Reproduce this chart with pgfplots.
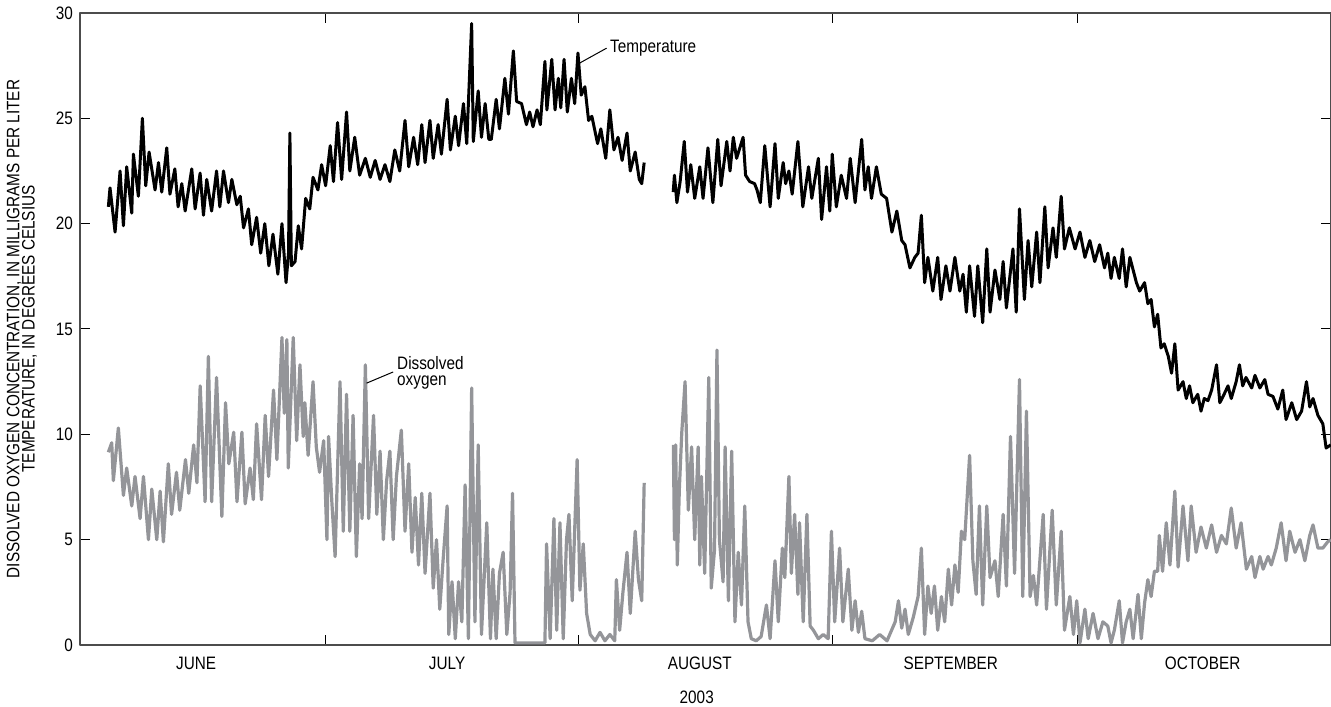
\documentclass[border=0pt]{standalone}
\usepackage{fontspec}
\setmainfont{Liberation Sans}[FakeStretch=0.85]
\usepackage{pgfplots}
\pgfplotsset{compat=1.18}
\definecolor{dogray}{RGB}{148,149,153}

\begin{document}
\begin{tikzpicture}
% picture frame: 1331x706 px at 0.5pt per px, axis box from (80,13) to (1331,645)
\useasboundingbox (-40pt,-30.5pt) rectangle (625.5pt,322.5pt);
\begin{axis}[
  at={(0,0)}, anchor=south west,
  width=625.5pt, height=316pt, scale only axis,
  xmin=0, xmax=153, ymin=0, ymax=30,
  font=\fontsize{9}{10}\selectfont,
  axis line style={draw=black!70, line width=0.8pt},
  tick style={draw=black, line width=0.5pt},
  major tick length=5pt, tick align=inside,
  ytick={0,5,...,30}, ytick pos=both, yticklabel pos=left,
  xtick={30,61,92,122}, xticklabels={,,,}, xtick pos=both,
  /pgf/number format/assume math mode=true,
  ylabel={DISSOLVED OXYGEN CONCENTRATION, IN MILLIGRAMS PER LITER\\TEMPERATURE, IN DEGREES CELSIUS},
  ylabel style={align=center, font=\fontsize{9}{7.6}\selectfont,
    at={(axis description cs:-0.0288,0.5)}, anchor=south},
  unbounded coords=jump,
  clip mode=individual,
  line join=round,
]
% dissolved oxygen
\addplot[color=dogray, line width=1.6pt] coordinates {
(3.47,9.15)(3.88,9.6)(4.08,7.8)(4.69,10.3)(5.31,7.1)(5.71,8.4)(6.33,6.6)(6.73,8.0)(7.35,6.0)(7.76,8.0)
(8.37,5.0)(8.78,7.4)(9.39,5.0)(9.8,7.3)(10.2,4.9)(10.8,8.6)(11.2,6.2)(11.8,8.2)(12.2,6.4)(12.9,8.8)
(13.3,7.2)(13.9,9.5)(14.3,7.7)(14.7,12.3)(15.3,6.8)(15.7,13.7)(16.1,6.8)(16.7,12.7)(17.35,6.1)(17.8,11.5)
(18.2,8.6)(18.8,10.1)(19.2,6.8)(19.8,10.1)(20.2,6.7)(20.8,8.4)(21.2,6.9)(21.6,10.5)(22.2,6.9)(22.65,10.9)
(23.06,8.0)(23.67,12.1)(24.08,8.8)(24.7,14.6)(24.98,11.0)(25.3,14.5)(25.47,8.4)(26.08,14.6)(26.5,9.7)(26.9,13.3)
(27.3,9.9)(27.5,11.5)(27.9,9.0)(28.5,12.5)(28.9,9.4)(29.3,8.2)(29.8,9.7)(30.2,5.0)(30.4,9.9)(30.8,6.8)
(31.2,4.2)(31.8,12.5)(32.2,5.4)(32.6,11.9)(33.0,5.4)(33.4,10.9)(33.8,4.2)(34.2,8.6)(34.5,6.0)(34.9,13.3)
(35.3,6.0)(35.9,10.9)(36.3,6.2)(36.7,9.2)(37.1,5.0)(37.5,7.8)(37.9,9.2)(38.3,5.0)(38.7,8.0)(39.3,10.2)
(39.75,5.4)(40.2,8.6)(40.6,4.4)(41.0,7.0)(41.4,3.8)(41.8,7.2)(42.2,3.4)(42.8,7.2)(43.2,2.7)(43.6,5.0)
(44.0,1.7)(44.4,4.0)(44.9,6.6)(45.1,0.5)(45.5,3.0)(45.9,0.3)(46.3,3.0)(46.7,1.1)(47.1,7.6)(47.5,0.3)
(47.9,12.2)(48.3,1.1)(48.7,9.5)(49.1,0.5)(49.75,5.8)(50.2,0.3)(50.5,3.6)(50.9,0.3)(51.3,3.4)(51.75,4.4)
(52.2,0.5)(52.6,2.5)(52.9,7.2)(53.2,0.1)(56.86,0.1)(57.06,4.8)(57.5,0.3)(57.96,6.0)(58.3,0.7)(58.7,5.8)
(59.1,0.3)(59.5,5.0)(59.8,6.2)(60.2,2.1)(60.8,8.8)(61.14,2.6)(61.55,4.8)(61.96,1.5)(62.4,0.5)(63.0,0.2)
(63.6,0.6)(64.2,0.2)(64.8,0.5)(65.4,0.2)(65.6,3.1)(66.0,0.7)(66.4,2.5)(66.9,4.4)(67.3,1.5)(67.9,5.4)
(68.3,3.1)(68.7,2.1)(69.0,7.7)
(70,nan)
(72.57,9.5)(72.7,5.0)(72.85,9.5)(73.05,3.8)(73.3,7.4)(73.6,10.1)(74.0,12.5)(74.4,6.4)(74.8,9.4)(75.18,5.0)
(75.6,9.4)(75.8,3.8)(76.0,8.0)(76.4,3.4)(76.9,12.7)(77.2,2.7)(77.6,4.5)(77.9,14.0)(78.2,5.0)(78.65,3.0)
(78.9,9.4)(79.3,2.1)(79.7,9.2)(80.1,1.1)(80.5,4.4)(80.9,1.9)(81.3,6.6)(81.7,1.1)(82.1,0.3)(82.7,0.2)
(83.3,0.4)(83.95,1.9)(84.4,0.3)(85.0,4.0)(85.4,1.1)(85.9,4.6)(86.2,3.2)(86.7,8.0)(87.0,3.4)(87.4,6.2)
(87.8,2.4)(88.0,5.8)(88.45,1.1)(88.9,6.2)(89.3,0.9)(89.7,0.7)(90.3,0.3)(90.9,0.5)(91.5,0.3)(91.9,5.4)
(92.3,1.1)(92.9,4.6)(93.3,1.1)(93.96,3.6)(94.4,0.7)(94.8,2.1)(95.2,0.6)(95.6,1.6)(96.0,0.3)(96.9,0.2)
(97.8,0.5)(98.7,0.2)(99.7,1.1)(100.1,2.1)(100.5,0.8)(100.9,1.7)(101.3,0.5)(101.9,1.3)(102.5,2.3)(102.9,4.6)
(103.3,0.5)(103.7,2.8)(104.1,1.5)(104.5,2.8)(104.9,0.7)(105.35,2.3)(105.75,1.1)(106.2,3.6)(106.6,1.9)(107.0,3.8)
(107.4,2.5)(107.8,5.4)(108.2,5.0)(108.8,9.0)(109.2,4.0)(109.6,2.4)(110.0,6.6)(110.4,1.9)(110.9,6.6)(111.3,3.2)
(111.9,4.0)(112.3,2.3)(112.9,6.2)(113.3,2.8)(113.8,9.9)(114.3,3.4)(114.9,12.6)(115.3,2.3)(115.75,11.1)(116.2,2.3)
(116.6,3.3)(117.0,1.9)(117.8,6.2)(118.2,1.7)(118.9,6.4)(119.4,1.9)(120.0,5.4)(120.4,0.7)(121.06,2.3)(121.5,0.5)
(121.9,2.1)(122.3,0.1)(122.9,1.7)(123.3,0.3)(123.9,1.5)(124.5,0.3)(125.1,1.1)(125.7,0.9)(126.1,0.1)(126.5,0.7)
(127.1,2.1)(127.5,0.1)(127.95,1.1)(128.4,1.7)(128.8,0.3)(129.4,2.4)(129.8,0.3)(130.2,2.0)(130.6,3.1)(131.0,2.3)
(131.4,3.5)(131.8,3.5)(132.0,5.2)(132.4,3.5)(132.85,5.8)(133.3,3.8)(133.9,7.3)(134.3,3.7)(134.9,6.6)(135.5,4.0)
(135.9,6.6)(136.5,4.4)(137.1,5.6)(137.75,4.6)(138.4,5.7)(139.0,4.4)(139.6,5.2)(140.2,4.8)(140.8,6.5)(141.4,4.6)
(142.0,5.8)(142.65,3.6)(143.3,4.2)(143.7,3.2)(144.3,4.2)(144.7,3.6)(145.3,4.2)(145.7,3.8)(146.3,4.6)(146.9,5.8)
(147.5,4.0)(147.95,5.4)(148.6,4.4)(149.2,5.0)(149.8,4.0)(150.4,5.2)(150.8,5.7)(151.4,4.6)(152.0,4.6)(152.6,4.9)
(152.97,5.0)
};
% temperature
\addplot[color=black, line width=1.5pt] coordinates {
(3.47,20.8)(3.67,21.7)(4.29,19.6)(4.90,22.5)(5.31,19.9)(5.71,22.7)(6.33,20.5)(6.53,23.3)(7.14,21.3)(7.63,25.0)
(8.04,21.8)(8.45,23.4)(9.18,21.6)(9.6,22.9)(10.0,21.5)(10.61,23.6)(11.0,21.4)(11.6,22.6)(12.0,20.8)(12.45,21.9)
(12.86,20.6)(13.67,22.6)(14.08,20.7)(14.69,22.4)(15.1,20.4)(15.5,22.1)(16.1,20.6)(16.7,22.5)(17.1,20.8)(17.55,22.5)
(18.16,21.0)(18.57,22.1)(19.18,20.9)(19.6,21.3)(20.0,19.8)(20.6,20.7)(21.0,19.0)(21.6,20.3)(22.1,18.6)(22.6,20.0)
(23.1,18.0)(23.6,19.5)(24.2,17.6)(24.7,20.0)(25.2,17.2)(25.5,18.6)(25.67,24.3)(25.85,18.0)(26.3,18.2)(26.7,19.9)
(27.1,18.8)(27.6,21.2)(28.1,20.7)(28.5,22.2)(29.1,21.6)(29.55,22.8)(30.04,21.8)(30.6,23.7)(31.0,22.0)(31.5,24.8)
(32.0,22.1)(32.6,25.3)(33.0,22.5)(33.6,24.1)(34.2,22.3)(34.9,23.1)(35.5,22.2)(36.1,23.0)(36.7,22.1)(37.3,22.8)
(37.9,22.0)(38.5,23.5)(39.1,22.5)(39.75,24.9)(40.2,22.7)(40.8,24.1)(41.3,22.8)(41.8,24.7)(42.2,22.9)(42.8,24.9)
(43.2,23.1)(43.8,24.7)(44.2,23.3)(44.9,25.9)(45.3,23.5)(45.9,25.1)(46.3,23.7)(46.9,25.7)(47.3,23.8)(47.9,29.5)
(48.1,23.9)(48.7,26.3)(49.1,24.1)(49.55,25.7)(50.0,24.0)(50.3,24.0)(50.9,25.9)(51.3,24.5)(51.96,26.9)(52.4,25.2)
(53.0,28.2)(53.4,25.8)(54.0,25.7)(54.6,24.7)(55.0,25.3)(55.4,24.6)(55.9,25.4)(56.3,24.7)(56.86,27.7)(57.1,25.4)
(57.7,27.8)(58.1,25.4)(58.5,26.9)(58.8,25.5)(59.2,27.8)(59.6,25.3)(60.1,26.9)(60.5,25.7)(60.9,28.1)(61.3,26.1)
(61.75,26.5)(62.2,24.9)(62.6,25.1)(63.3,23.8)(63.7,24.5)(64.3,23.1)(64.8,25.4)(65.3,23.5)(65.8,24.1)(66.3,23.0)
(66.9,24.3)(67.3,22.5)(67.9,23.4)(68.4,22.1)(68.7,21.9)(69.0,22.9)
(70,nan)
(72.55,21.5)(72.7,22.3)(73.0,21.0)(73.4,22.0)(73.9,23.9)(74.3,21.5)(74.7,22.8)(75.18,21.2)(75.8,22.7)(76.2,21.2)
(76.8,23.6)(77.4,21.0)(78.0,24.0)(78.4,21.8)(79.1,23.9)(79.5,22.5)(79.9,24.1)(80.3,23.1)(81.1,24.1)(81.4,22.3)
(81.9,22.0)(82.5,21.9)(82.8,21.6)(83.2,21.0)(83.75,23.7)(84.4,20.8)(85.0,23.8)(85.4,21.2)(86.0,22.9)(86.3,21.9)
(86.7,22.5)(87.1,21.4)(87.8,23.9)(88.4,20.8)(89.1,22.7)(89.5,21.2)(90.3,23.1)(90.7,20.2)(91.3,22.7)(91.7,20.6)
(92.0,23.3)(92.5,20.8)(93.1,22.3)(93.75,21.2)(94.2,23.1)(94.8,21.0)(95.6,24.0)(96.0,21.6)(96.4,22.7)(96.8,21.2)
(97.4,22.7)(98.0,21.4)(98.65,21.2)(99.3,19.6)(99.9,20.6)(100.5,19.2)(100.9,19.0)(101.5,17.9)(102.1,18.4)(102.5,18.6)
(102.9,20.4)(103.3,17.2)(103.7,18.4)(104.3,16.8)(104.9,18.4)(105.3,16.4)(105.9,18.0)(106.4,16.8)(107.0,18.4)(107.6,16.8)
(108.0,17.6)(108.4,15.8)(108.8,18.0)(109.4,15.6)(109.8,18.0)(110.4,15.3)(110.9,18.8)(111.3,15.8)(111.9,17.8)(112.5,16.4)
(112.9,18.2)(113.3,16.0)(114.1,18.8)(114.5,15.8)(114.9,20.7)(115.5,16.4)(115.95,19.2)(116.4,17.0)(117.0,19.6)(117.4,17.2)
(118.0,20.8)(118.4,17.9)(119.0,19.8)(119.4,18.4)(120.0,21.3)(120.4,18.8)(121.0,19.8)(121.7,18.8)(122.3,19.6)(122.9,18.4)
(123.5,19.2)(124.1,18.2)(124.7,19.0)(125.3,17.9)(125.7,18.6)(126.1,17.4)(126.5,18.4)(127.1,17.4)(127.5,18.8)(127.95,17.0)
(128.4,18.4)(128.8,17.8)(129.2,17.2)(129.6,16.8)(130.2,17.2)(130.6,16.2)(131.0,16.4)(131.4,15.1)(131.8,15.7)(132.2,14.1)
(132.6,14.3)(133.1,13.7)(133.5,12.9)(133.9,14.3)(134.3,12.1)(134.9,12.5)(135.3,11.7)(135.7,12.3)(136.1,11.5)(136.7,11.9)
(137.1,11.1)(137.5,11.7)(137.95,11.6)(138.4,12.1)(139.0,13.3)(139.4,11.5)(139.8,11.8)(140.4,12.3)(140.8,11.7)(141.4,12.5)
(141.8,13.3)(142.2,12.3)(142.6,12.7)(143.3,12.2)(143.7,12.8)(144.3,12.2)(144.9,12.6)(145.3,11.9)(145.9,11.8)(146.5,11.2)
(147.1,12.1)(147.5,10.7)(148.2,11.5)(148.8,10.7)(149.4,11.1)(150.0,12.5)(150.4,11.3)(150.8,11.7)(151.4,10.9)(152.0,10.5)
(152.4,9.35)(152.97,9.5)
};
% annotations
\draw[line width=0.5pt] (axis cs:61.0,27.6) -- (axis cs:64.4,28.33);
\node[anchor=west, inner sep=0pt] at (axis cs:64.8,28.33) {Temperature};
\draw[line width=0.5pt] (axis cs:35.05,12.43) -- (axis cs:38.3,12.96);
\node[anchor=west, inner sep=0pt, align=left, font=\fontsize{9}{8}\selectfont] at (axis cs:38.75,12.9) {Dissolved\\oxygen};
% month labels
\node at (axis cs:14.2,0) [yshift=-9pt] {JUNE};
\node at (axis cs:44.9,0) [yshift=-9pt] {JULY};
\node at (axis cs:75.8,0) [yshift=-9pt] {AUGUST};
\node at (axis cs:106.5,0) [yshift=-9pt] {SEPTEMBER};
\node at (axis cs:137.3,0) [yshift=-9pt] {OCTOBER};
\node at (rel axis cs:0.493,0) [yshift=-26pt] {2003};
\end{axis}
\end{tikzpicture}
\end{document}
